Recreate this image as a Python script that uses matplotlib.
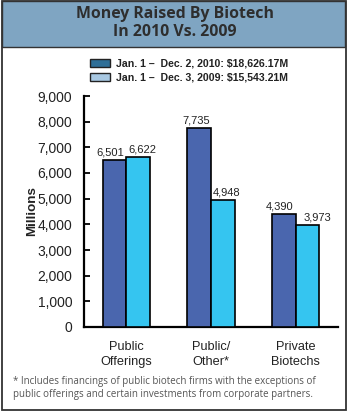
import matplotlib
matplotlib.use("Agg")
import matplotlib.pyplot as plt
from matplotlib.patches import Rectangle

categories = ["Public\nOfferings", "Public/\nOther*", "Private\nBiotechs"]
values_2010 = [6501, 7735, 4390]
values_2009 = [6622, 4948, 3973]
labels_2010 = ["6,501", "7,735", "4,390"]
labels_2009 = ["6,622", "4,948", "3,973"]
legend_2010 = "Jan. 1 \u2013  Dec. 2, 2010: $18,626.17M"
legend_2009 = "Jan. 1 \u2013  Dec. 3, 2009: $15,543.21M"
title = "Money Raised By Biotech\nIn 2010 Vs. 2009"
footnote = ("* Includes financings of public biotech firms with the exceptions of\n"
            "public offerings and certain investments from corporate partners.")
yticks = list(range(0, 9001, 1000))
ytick_labels = [f"{v:,}" for v in yticks]

W, H = 350, 416
fig = plt.figure(figsize=(W / 100, H / 100), dpi=100)
fig.patch.set_facecolor("white")

def fx(px):
    return px / W

def fy(py):
    return 1 - py / H

# Title band
fig.patches.append(Rectangle((fx(2), fy(47)), fx(345) - fx(2), fy(1) - fy(47),
                             transform=fig.transFigure, facecolor="#7fa5c2",
                             edgecolor="#333333", linewidth=1.0, zorder=0))
# Outer border
fig.patches.append(Rectangle((fx(2), fy(410)), fx(346) - fx(2), fy(1) - fy(410),
                             transform=fig.transFigure, facecolor="none",
                             edgecolor="#333333", linewidth=1.3, zorder=5))
fig.text(0.5, fy(23), title, ha="center", va="center", fontsize=11.4,
         fontweight="bold", color="#2e2e2e", family="Open Sans", linespacing=1.1)

dark = "#4a66ae"
light = "#35c5f0"
leg_dark = "#2f6f97"
leg_light = "#a8c8e2"

# Legend
for i, (txt, col) in enumerate([(legend_2010, leg_dark), (legend_2009, leg_light)]):
    yc = 63 + i * 14
    fig.patches.append(Rectangle((fx(90), fy(yc + 4)), fx(20), fy(0) - fy(8),
                                 transform=fig.transFigure, facecolor=col,
                                 edgecolor="#222222", linewidth=1.0))
    fig.text(fx(116), fy(yc), txt, ha="left", va="center", fontsize=7.6,
             fontweight="bold", color="#222222", family="Liberation Sans")

ax = fig.add_axes([fx(84), fy(327), fx(338) - fx(84), fy(96) - fy(327)])
x = list(range(len(categories)))
bw = 0.28
b1 = ax.bar([i - bw / 2 for i in x], values_2010, width=bw, color=dark,
            edgecolor="black", linewidth=1.2, zorder=3)
b2 = ax.bar([i + bw / 2 for i in x], values_2009, width=bw, color=light,
            edgecolor="black", linewidth=1.2, zorder=3)
shift_2010 = [-3, -2, -3]
shift_2009 = [3, 3, 7]
for rects, labs, shifts in [(b1, labels_2010, shift_2010), (b2, labels_2009, shift_2009)]:
    for rect, lab, sh in zip(rects, labs, shifts):
        ax.annotate(lab, (rect.get_x() + rect.get_width() / 2, rect.get_height()),
                    xytext=(sh, 2), textcoords="offset points",
                    ha="center", va="bottom", fontsize=8, family="Liberation Sans",
                    color="#222222")

ax.set_xlim(-0.5, 2.5)
ax.set_ylim(0, 9000)
ax.set_yticks(yticks)
ax.set_yticklabels(ytick_labels, fontsize=10, family="Liberation Sans", color="#222222")
ax.tick_params(axis="y", direction="in", length=4, width=1.3, pad=8.5)
ax.set_xticks(x)
ax.set_xticklabels(categories, fontsize=9.2, family="Liberation Sans", color="#222222",
                   linespacing=1.3)
ax.tick_params(axis="x", length=0, pad=10)
for s in ["top", "right"]:
    ax.spines[s].set_visible(False)
ax.spines["left"].set_linewidth(1.6)
ax.spines["bottom"].set_linewidth(1.6)
ax.set_ylabel("Millions", fontsize=9.6, fontweight="bold", family="Liberation Sans",
              color="#222222")
ax.yaxis.set_label_coords((38 - 84) / (338 - 84), 0.5)

fig.text(fx(13), fy(388), footnote, ha="left", va="center", fontsize=7.0,
         color="#555555", family="Open Sans", linespacing=1.15)

fig.savefig("out.png", dpi=100)
